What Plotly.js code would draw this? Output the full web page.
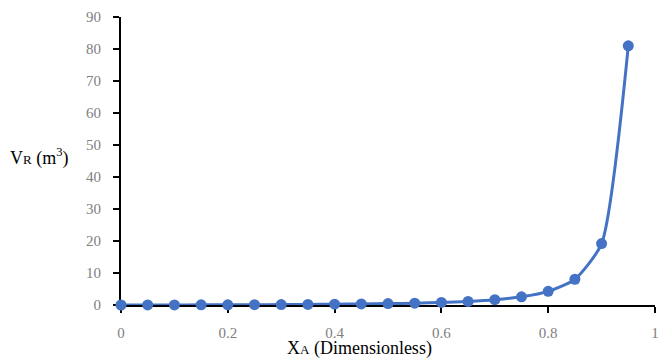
<!DOCTYPE html>
<html><head><meta charset="utf-8">
<script src="https://cdn.plot.ly/plotly-3.0.1.min.js"></script>
<style>html,body{margin:0;padding:0;background:#fff}</style>
</head><body>
<div id="chart" style="width:659px;height:360px"></div>
<script>
var conversion = [0, 0.05, 0.1, 0.15, 0.2, 0.25, 0.3, 0.35, 0.4, 0.45, 0.5, 0.55, 0.6, 0.65, 0.7, 0.75, 0.8, 0.85, 0.9, 0.95];
var volume = [0, 0.012, 0.026, 0.044, 0.067, 0.095, 0.13, 0.18, 0.24, 0.32, 0.43, 0.58, 0.8, 1.13, 1.66, 2.56, 4.26, 8.05, 19.2, 81];
var xTicks = [0, 0.2, 0.4, 0.6, 0.8, 1];
var xTickText = ['0', '0.2', '0.4', '0.6', '0.8', '1'];
var yTicks = [0, 10, 20, 30, 40, 50, 60, 70, 80, 90];

var SERIF = 'Liberation Serif';
var trace = {
  x: conversion, y: volume, type: 'scatter', mode: 'lines+markers',
  line: {color: '#4472C4', width: 3, shape: 'spline', smoothing: 0.6},
  marker: {color: '#4472C4', size: 11},
  cliponaxis: false, hoverinfo: 'none'
};
var layout = {
  width: 659, height: 360,
  margin: {l: 121, r: 4, t: 17, b: 55},
  paper_bgcolor: '#fff', plot_bgcolor: '#fff',
  showlegend: false,
  xaxis: {
    range: [0, 1], tickvals: xTicks, ticktext: xTickText,
    showgrid: false, zeroline: false, showline: true, linecolor: '#000', linewidth: 2,
    ticks: 'outside', ticklen: 6, tickwidth: 2, tickcolor: '#000',
    tickfont: {family: SERIF, size: 15, color: '#808080'},
    ticklabeloverflow: 'allow', ticklabelstandoff: 7,
    layer: 'below traces'
  },
  yaxis: {
    range: [0, 90], tickvals: yTicks,
    showgrid: false, zeroline: false, showline: true, linecolor: '#000', linewidth: 2,
    ticks: 'outside', ticklen: 6, tickwidth: 2, tickcolor: '#000',
    tickfont: {family: SERIF, size: 15, color: '#808080'},
    ticklabelstandoff: 9,
    layer: 'below traces'
  },
  annotations: [{
    text: 'V<span style="font-size:13px">R</span> (m<sup>3</sup>)', xref: 'paper', yref: 'paper',
    x: -0.212, y: 0.514, xanchor: 'left', yanchor: 'middle', showarrow: false,
    font: {family: SERIF, size: 18, color: '#000'}
  }, {
    text: 'X<span style="font-size:13px">A</span> (Dimensionless)', xref: 'paper', yref: 'paper',
    x: 0.447, y: -0.194, xanchor: 'center', yanchor: 'bottom', showarrow: false,
    font: {family: SERIF, size: 18, color: '#000'}
  }]
};
Plotly.newPlot('chart', [trace], layout, {displayModeBar: false, staticPlot: true});
</script>
</body></html>
